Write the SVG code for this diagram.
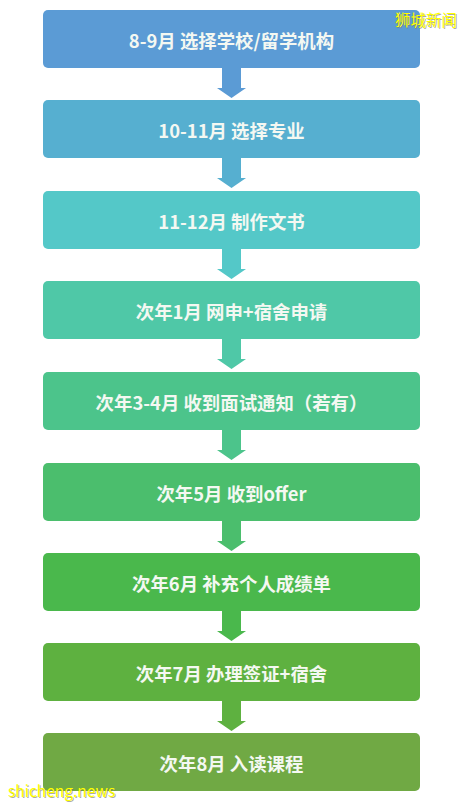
<svg xmlns="http://www.w3.org/2000/svg" width="468" height="803" viewBox="0 0 468 803">
<style>
.box{stroke:none}
.lbl{font-family:"Noto Sans CJK SC","Noto Sans",sans-serif;font-weight:bold;font-size:18.4px;fill:#f4f8f2;text-anchor:middle;dominant-baseline:central}
.wm{font-family:"Noto Sans CJK SC","Noto Sans",sans-serif;fill:#ffff00}
.wms{font-family:"Noto Sans CJK SC","Noto Sans",sans-serif;fill:#7a7a60;opacity:0.6}
</style>
<defs>
<path id="arr" d="M-9.5,0 H9.5 V20 H14.5 L0,30 L-14.5,20 H-9.5 Z"/>
</defs>
<rect width="468" height="803" fill="#ffffff"/>
<g id="connectors">
<use href="#arr" x="231.5" y="68" fill="#5b9bd5"/>
<use href="#arr" x="231.5" y="158" fill="#56afd0"/>
<use href="#arr" x="231.5" y="249" fill="#54c8c8"/>
<use href="#arr" x="231.5" y="339" fill="#4fc8a7"/>
<use href="#arr" x="231.5" y="430" fill="#4cc48b"/>
<use href="#arr" x="231.5" y="521" fill="#4bbe6d"/>
<use href="#arr" x="231.5" y="611" fill="#4ab84c"/>
<use href="#arr" x="231.5" y="701" fill="#5eb140"/>
</g>
<g id="n1"><rect class="box" x="43" y="10" width="377" height="58" rx="5" fill="#5b9bd5"/><text class="lbl" x="231.5" y="40">8-9月 选择学校/留学机构</text></g>
<g id="n2"><rect class="box" x="43" y="100" width="377" height="58" rx="5" fill="#56afd0"/><text class="lbl" x="231.5" y="130">10-11月 选择专业</text></g>
<g id="n3"><rect class="box" x="43" y="191" width="377" height="58" rx="5" fill="#54c8c8"/><text class="lbl" x="231.5" y="221">11-12月 制作文书</text></g>
<g id="n4"><rect class="box" x="43" y="281" width="377" height="58" rx="5" fill="#4fc8a7"/><text class="lbl" x="231.5" y="311">次年1月 网申+宿舍申请</text></g>
<g id="n5"><rect class="box" x="43" y="372" width="377" height="58" rx="5" fill="#4cc48b"/><text class="lbl" x="231.5" y="402">次年3-4月 收到面试通知（若有）</text></g>
<g id="n6"><rect class="box" x="43" y="463" width="377" height="58" rx="5" fill="#4bbe6d"/><text class="lbl" x="231.5" y="493">次年5月 收到offer</text></g>
<g id="n7"><rect class="box" x="43" y="553" width="377" height="58" rx="5" fill="#4ab84c"/><text class="lbl" x="231.5" y="583">次年6月 补充个人成绩单</text></g>
<g id="n8"><rect class="box" x="43" y="643" width="377" height="58" rx="5" fill="#5eb140"/><text class="lbl" x="231.5" y="673">次年7月 办理签证+宿舍</text></g>
<g id="n9"><rect class="box" x="43" y="733" width="377" height="58" rx="5" fill="#70a944"/><text class="lbl" x="231.5" y="763">次年8月 入读课程</text></g>
<text class="wms" x="396" y="27" font-size="15.5">狮城新闻</text>
<text class="wm" x="395" y="26" font-size="15.5">狮城新闻</text>
<text class="wms" x="9" y="798" font-size="15.5">shicheng.news</text>
<text class="wm" x="8" y="797" font-size="15.5">shicheng.news</text>
</svg>
